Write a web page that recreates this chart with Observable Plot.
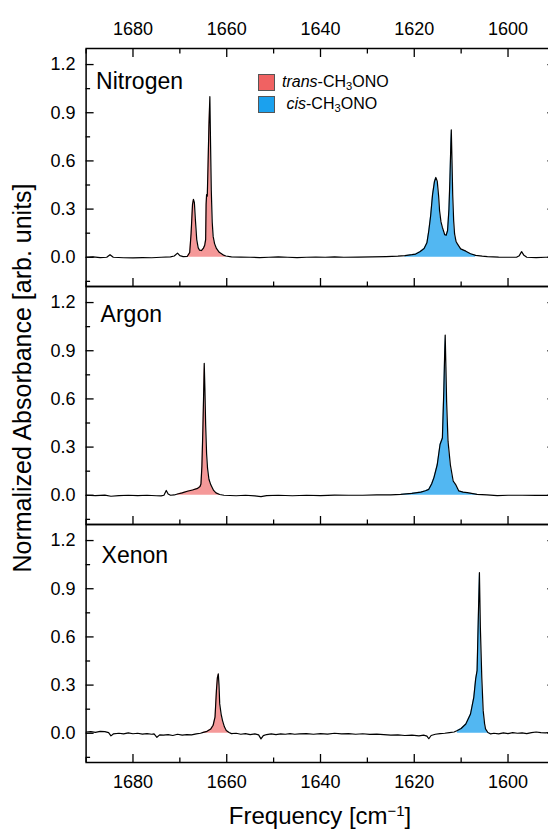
<!DOCTYPE html>
<html>
<head>
<meta charset="utf-8">
<script src="https://cdn.jsdelivr.net/npm/d3@7"></script>
<script src="https://cdn.jsdelivr.net/npm/@observablehq/plot@0.6"></script>
<style>
  html, body { margin: 0; padding: 0; background: #fff; overflow: hidden; }
  #wrap { position: relative; width: 548px; height: 831px; overflow: hidden; font-family: "Liberation Sans", Arial, sans-serif; color: #000; }
  #chart { position: absolute; left: 0; top: 0; }
  #ytitle { position: absolute; left: 22px; top: 378px; transform: translate(-50%, -50%) rotate(-90deg); white-space: nowrap; font-size: 25px; line-height: 25px; }
  #xtitle { position: absolute; left: 320px; top: 804px; transform: translateX(-50%); white-space: nowrap; font-size: 24px; line-height: 24px; }
  #xtitle sup { font-size: 62%; vertical-align: 0.55em; line-height: 0; }
  #legend { position: absolute; left: 258px; top: 71px; font-size: 16px; }
  #legend .row { display: flex; align-items: center; height: 22px; }
  #legend .sw { width: 15px; height: 15px; border: 1px solid #555; margin-right: 7px; box-sizing: content-box; }
  #legend sub { font-size: 70%; vertical-align: -0.3em; line-height: 0; }
</style>
</head>
<body>
<div id="wrap">
  <div id="chart"></div>
  <div id="legend">
    <div class="row"><span class="sw" style="background:#F06262"></span><span><i>trans</i>-CH<sub>3</sub>ONO</span></div>
    <div class="row"><span class="sw" style="background:#1BA1EE"></span><span>&nbsp;<i>cis</i>-CH<sub>3</sub>ONO</span></div>
  </div>
  <div id="ytitle">Normalized Absorbance [arb. units]</div>
  <div id="xtitle">Frequency [cm<sup>&minus;1</sup>]</div>
</div>
<script>
// ---- categories / ticks ----
const gases = ["Nitrogen", "Argon", "Xenon"];
const xMajorTicks = [1680, 1660, 1640, 1620, 1600];
const xMinorTicks = [1690, 1670, 1650, 1630, 1610, 1590];
const yMajorTicks = [0.0, 0.3, 0.6, 0.9, 1.2];
const yMinorTicks = [-0.15, 0.15, 0.45, 0.75, 1.05];

// ---- Nitrogen spectrum ----
const n2Freq = [1690, 1688.5, 1687, 1685.6, 1684.9, 1684.2, 1682, 1680, 1678, 1676, 1674, 1672, 1671.2, 1670.5, 1670.0, 1669.3, 1668.4, 1667.9, 1667.6, 1667.3, 1667.1, 1666.9, 1666.7, 1666.4, 1666.1, 1665.8, 1665.4, 1665.0, 1664.7, 1664.5, 1664.4, 1664.3, 1664.15, 1664.0, 1663.8, 1663.6, 1663.45, 1663.3, 1663.1, 1662.9, 1662.6, 1662.2, 1661.6, 1660.8, 1660.2, 1659.0, 1657, 1655, 1653, 1651, 1649, 1647, 1645, 1643, 1641, 1639, 1637, 1635, 1632, 1629, 1626, 1623.5, 1622, 1620.5, 1619.7, 1618.8, 1617.9, 1617.3, 1616.9, 1616.5, 1616.1, 1615.7, 1615.4, 1615.1, 1614.8, 1614.6, 1614.3, 1614.0, 1613.5, 1613.2, 1612.9, 1612.6, 1612.4, 1612.2, 1612.1, 1611.95, 1611.8, 1611.6, 1611.4, 1611.1, 1610.8, 1610.1, 1609.0, 1608.0, 1606.9, 1605.5, 1604.4, 1602, 1600, 1598.2, 1597.6, 1597.1, 1596.6, 1596.0, 1594, 1592, 1590];
const n2Abs = [0.000, 0.002, -0.002, 0.000, 0.016, 0.000, -0.003, -0.004, -0.002, -0.003, 0.000, 0.003, 0.008, 0.026, 0.010, 0.004, 0.006, 0.030, 0.150, 0.330, 0.361, 0.340, 0.240, 0.110, 0.060, 0.044, 0.042, 0.055, 0.075, 0.110, 0.330, 0.390, 0.380, 0.560, 0.820, 1.000, 0.700, 0.420, 0.220, 0.130, 0.085, 0.055, 0.031, 0.015, 0.008, 0.003, 0.001, 0.000, -0.002, 0.000, 0.002, 0.000, -0.002, 0.000, 0.001, 0.000, 0.002, 0.000, 0.001, 0.002, 0.004, 0.007, 0.010, 0.016, 0.020, 0.035, 0.055, 0.090, 0.165, 0.260, 0.390, 0.470, 0.497, 0.474, 0.380, 0.290, 0.220, 0.186, 0.140, 0.137, 0.165, 0.300, 0.480, 0.700, 0.794, 0.600, 0.390, 0.230, 0.145, 0.100, 0.083, 0.052, 0.038, 0.022, 0.012, 0.007, 0.004, 0.001, 0.000, 0.000, 0.010, 0.035, 0.012, 0.000, -0.002, 0.000, 0.000];

// ---- Argon spectrum ----
const arFreq = [1690, 1688, 1686, 1684.7, 1683, 1681, 1679, 1677, 1675, 1674, 1673.4, 1672.9, 1672.5, 1672.0, 1671.2, 1670.5, 1669.5, 1668.4, 1667.3, 1666.2, 1665.7, 1665.5, 1665.3, 1665.1, 1664.95, 1664.8, 1664.65, 1664.5, 1664.3, 1664.1, 1663.8, 1663.4, 1662.8, 1662.3, 1661.5, 1660.6, 1658, 1656, 1654, 1652.7, 1651.5, 1649, 1646, 1643, 1640, 1637, 1634, 1631, 1628, 1625, 1622.9, 1620.5, 1618.6, 1617.6, 1616.9, 1616.3, 1615.8, 1615.1, 1614.5, 1614.0, 1613.7, 1613.5, 1613.4, 1613.25, 1613.1, 1612.8, 1612.3, 1611.7, 1611.2, 1610.5, 1609.6, 1608.7, 1606.6, 1604.5, 1602.3, 1600, 1597, 1594, 1590];
const arAbs = [0.000, -0.002, 0.001, -0.006, -0.002, 0.000, -0.002, 0.000, -0.003, -0.004, 0.000, 0.030, 0.008, 0.000, 0.002, 0.008, 0.015, 0.025, 0.033, 0.043, 0.055, 0.070, 0.180, 0.400, 0.600, 0.822, 0.650, 0.440, 0.260, 0.170, 0.100, 0.065, 0.030, 0.015, 0.005, 0.000, -0.003, 0.000, -0.004, -0.008, -0.002, 0.000, -0.003, 0.000, -0.002, 0.001, 0.000, 0.000, 0.002, 0.002, 0.005, 0.012, 0.020, 0.028, 0.037, 0.070, 0.110, 0.190, 0.316, 0.357, 0.647, 0.900, 0.998, 0.800, 0.585, 0.337, 0.190, 0.089, 0.068, 0.027, 0.020, 0.016, 0.006, 0.002, -0.002, 0.000, 0.000, -0.001, 0.000];

// ---- Xenon spectrum ----
const xeFreq = [1690, 1689, 1688, 1687, 1686, 1685.2, 1684.7, 1684.2, 1683, 1682, 1681, 1680, 1679, 1678, 1677, 1676, 1675.5, 1674.9, 1674.3, 1673.5, 1672.5, 1671.5, 1670.5, 1669.5, 1668.5, 1667.5, 1666.5, 1665.6, 1665.0, 1664.2, 1663.4, 1662.9, 1662.5, 1662.2, 1662.0, 1661.8, 1661.65, 1661.5, 1661.2, 1660.9, 1660.5, 1660.1, 1659.5, 1659.0, 1658, 1657, 1656, 1655, 1654, 1653.2, 1652.7, 1652.2, 1651.5, 1650.5, 1649.5, 1648.5, 1647.5, 1646.5, 1645.5, 1644.5, 1643, 1641.5, 1640, 1638.5, 1637, 1635.5, 1634, 1632.5, 1631, 1629.5, 1628, 1626.5, 1625, 1623.5, 1622, 1620.5, 1619, 1618, 1617.3, 1616.9, 1616.4, 1615.5, 1614.5, 1613.5, 1612.5, 1611.5, 1610.8, 1610.0, 1609.0, 1608.0, 1607.3, 1606.9, 1606.6, 1606.3, 1606.1, 1605.9, 1605.6, 1605.3, 1605.0, 1604.8, 1604.3, 1603.7, 1603, 1602, 1601, 1600, 1599, 1598, 1597, 1596, 1595, 1594, 1593, 1592, 1591, 1590];
const xeAbs = [0.008, 0.010, 0.006, 0.012, 0.010, 0.004, -0.016, -0.004, 0.000, -0.004, 0.002, -0.003, 0.000, -0.005, -0.002, -0.006, -0.004, -0.025, -0.010, -0.012, -0.008, -0.014, -0.006, -0.012, -0.008, -0.010, -0.004, 0.000, 0.006, 0.012, 0.027, 0.050, 0.100, 0.266, 0.345, 0.370, 0.300, 0.183, 0.120, 0.079, 0.040, 0.017, 0.005, -0.002, 0.000, -0.006, -0.002, -0.008, -0.004, -0.010, -0.035, -0.015, -0.008, -0.004, -0.008, -0.004, -0.006, -0.002, -0.006, -0.004, -0.002, -0.006, -0.002, -0.005, 0.000, -0.004, -0.002, -0.006, -0.003, -0.007, -0.005, -0.008, -0.012, -0.010, -0.014, -0.012, -0.016, -0.012, -0.018, -0.034, -0.014, -0.006, -0.002, 0.000, 0.004, 0.008, 0.017, 0.030, 0.058, 0.120, 0.224, 0.339, 0.390, 0.764, 1.000, 0.660, 0.350, 0.141, 0.060, 0.027, 0.005, -0.004, 0.000, -0.004, 0.002, -0.002, 0.004, 0.000, 0.002, -0.002, 0.004, 0.008, 0.004, 0.002, 0.006, 0.004];

// ---- filled band limits (cm^-1) per gas: [low, high] ----
const transBands = [[1659.5, 1668.4], [1661.5, 1671.0], [1659.0, 1665.2]];
const cisBands = [[1606.0, 1622.5], [1606.0, 1623.0], [1603.7, 1610.8]];

// ---- colours ----
const transColor = "#F06262";
const cisColor = "#1BA1EE";

// build tables
const spectra = [[n2Freq, n2Abs], [arFreq, arAbs], [xeFreq, xeAbs]];
const rows = [];
spectra.forEach(([fq, ab], g) => fq.forEach((f, i) => rows.push({gas: gases[g], freq: f, abs: ab[i]})));
const inBand = (bands) => rows.filter(r => {
  const [lo, hi] = bands[gases.indexOf(r.gas)];
  return r.freq >= lo && r.freq <= hi;
});
const transRows = inBand(transBands);
const cisRows = inBand(cisBands);

const labelPos = {Nitrogen: [10, 24.5], Argon: [14.5, 19.5], Xenon: [15.5, 22.5]};

const plot = Plot.plot({
  width: 556,
  height: 831,
  marginLeft: 85.6,
  marginRight: 1.6,
  marginTop: 47,
  marginBottom: 68.2,
  x: {domain: [1690, 1590], label: null},
  y: {domain: [-0.182, 1.3], label: null},
  fy: {domain: gases, padding: 0, axis: null, label: null},
  style: {fontFamily: "'Liberation Sans', Arial, sans-serif", fontSize: "18px", color: "#000", background: "transparent", maxWidth: "none", overflow: "visible"},
  marks: [
    Plot.areaY(transRows, {x: "freq", y: "abs", fy: "gas", fill: transColor, fillOpacity: 0.65}),
    Plot.areaY(cisRows, {x: "freq", y: "abs", fy: "gas", fill: cisColor, fillOpacity: 0.76}),
    Plot.lineY(rows, {x: "freq", y: "abs", fy: "gas", stroke: "#000", strokeWidth: 1.2}),
    Plot.frame({stroke: "#000", strokeWidth: 1.5}),
    Plot.axisY({anchor: "left", ticks: yMajorTicks, tickSize: -8, tickPadding: 18.6, tickFormat: d3.format(".1f"), strokeWidth: 1.3}),
    Plot.axisY({anchor: "left", ticks: yMinorTicks, tickSize: -4.5, fill: "none", strokeWidth: 1.3}),
    Plot.axisY({anchor: "right", ticks: yMajorTicks, tickSize: -8, fill: "none", strokeWidth: 1.3}),
    Plot.axisY({anchor: "right", ticks: yMinorTicks, tickSize: -4.5, fill: "none", strokeWidth: 1.3}),
    Plot.axisX({anchor: "top", ticks: xMajorTicks, tickSize: -8, tickPadding: 22, tickFormat: "d", strokeWidth: 1.3}),
    Plot.axisX({anchor: "top", ticks: xMinorTicks, tickSize: -4.5, fill: "none", strokeWidth: 1.3}),
    Plot.axisX({anchor: "bottom", ticks: xMajorTicks, tickSize: -8, fill: "none", facetAnchor: null, strokeWidth: 1.3}),
    Plot.axisX({anchor: "bottom", ticks: xMinorTicks, tickSize: -4.5, fill: "none", facetAnchor: null, strokeWidth: 1.3}),
    Plot.axisX({anchor: "bottom", ticks: xMajorTicks, tickSize: 0, tickPadding: 13, tickFormat: "d"}),
    ...gases.map(g => Plot.text([{gas: g}], {
      fy: "gas", text: "gas", frameAnchor: "top-left", textAnchor: "start", lineAnchor: "top",
      dx: labelPos[g][0], dy: labelPos[g][1], fontSize: 23, fill: "#000"
    }))
  ]
});
document.getElementById("chart").appendChild(plot);
</script>
</body>
</html>
